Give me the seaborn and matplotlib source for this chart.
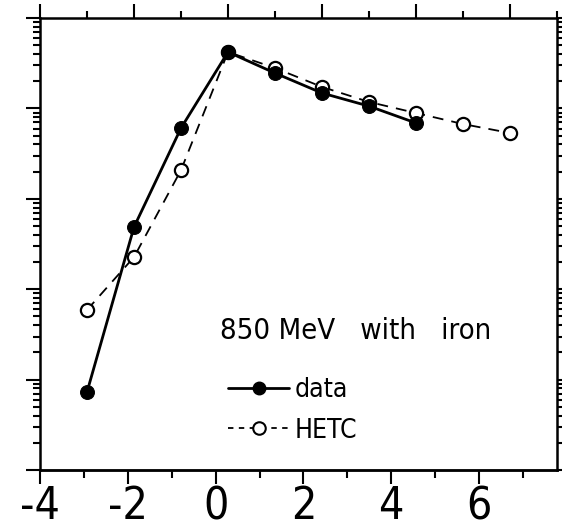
import numpy as np
import pandas as pd
import matplotlib
matplotlib.use("Agg")
import matplotlib.pyplot as plt
from matplotlib.lines import Line2D
from matplotlib.ticker import MultipleLocator, LogLocator, NullFormatter
import seaborn as sns

# values (y on a log scale, arbitrary units)
data_x = [-3, -2, -1, 0, 1, 2, 3, 4]
data_y = [7.3, 488, 6070, 42100, 24600, 14800, 10600, 6900]

hetc_x = [-3, -2, -1, 0, 1, 2, 3, 4, 5, 6]
hetc_y = [59, 227, 2080, 42100, 28000, 17300, 11800, 8900, 6720, 5350]

bottom_ticks = [-4, -2, 0, 2, 4, 6]
title_text = "850 MeV   with   iron"
legend_labels = ["data", "HETC"]

sns.set_theme(style="ticks")
plt.rcParams["font.family"] = ["Liberation Sans Narrow", "DejaVu Sans"]
plt.rcParams["font.stretch"] = "condensed"
plt.rcParams["axes.unicode_minus"] = False
plt.rcParams["text.color"] = "black"
plt.rcParams["xtick.labelcolor"] = "black"
plt.rcParams["ytick.labelcolor"] = "black"

fig = plt.figure(figsize=(5.62, 5.28), dpi=100)
ax = fig.add_axes([0.0712, 0.1098, 0.920, 0.856])

df_data = pd.DataFrame({"x": data_x, "y": data_y})
df_hetc = pd.DataFrame({"x": hetc_x, "y": hetc_y})

# HETC first so the filled data points sit on top
sns.lineplot(data=df_hetc, x="x", y="y", ax=ax, color="black", linewidth=1.3,
             linestyle=(0, (6, 4.5)), marker="o", markersize=9.5,
             markerfacecolor="white", markeredgecolor="black", markeredgewidth=1.6)
sns.lineplot(data=df_data, x="x", y="y", ax=ax, color="black", linewidth=2.0,
             marker="o", markersize=10, markerfacecolor="black",
             markeredgecolor="black")

ax.set_yscale("log")
ax.set_ylim(1, 1e5)
ax.set_xlim(-4, 7)
ax.set_xlabel("")
ax.set_ylabel("")

ax.yaxis.set_major_locator(LogLocator(base=10, numticks=20))
ax.yaxis.set_minor_locator(LogLocator(base=10, subs=np.arange(2, 10), numticks=100))
ax.yaxis.set_major_formatter(NullFormatter())
ax.yaxis.set_minor_formatter(NullFormatter())
ax.xaxis.set_major_locator(MultipleLocator(2))
ax.xaxis.set_minor_locator(MultipleLocator(1))

for sp in ax.spines.values():
    sp.set_linewidth(1.8)
    sp.set_color("black")

ax.tick_params(which="both", direction="out", color="black", width=1.5,
               left=True, right=True, top=True, bottom=False,
               labelleft=False, labelbottom=False, labeltop=False)
ax.tick_params(which="major", length=10)
ax.tick_params(which="minor", length=5)

# the bottom scale of the scanned figure is a little compressed against the top one
def fwd(x):
    return -4 + 1.0707 * (np.asarray(x) + 4)

def inv(u):
    return (np.asarray(u) + 4) / 1.0707 - 4

sec = ax.secondary_xaxis("bottom", functions=(fwd, inv))
sec.set_xticks(bottom_ticks)
sec.xaxis.set_minor_locator(MultipleLocator(1))
sec.tick_params(which="both", direction="out", color="black", width=1.5,
                labelsize=32, pad=1, labelcolor="black")
sec.tick_params(which="major", length=10)
sec.tick_params(which="minor", length=6)
sec.spines["bottom"].set_linewidth(1.8)

ax.text(0.611, 0.3075, title_text, transform=ax.transAxes, ha="center",
        va="center", fontsize=21, color="black")

handles = [
    Line2D([], [], color="black", linewidth=2.0, marker="o", markersize=9,
           markerfacecolor="black"),
    Line2D([], [], color="black", linewidth=1.3, linestyle=(0, (3, 3)),
           marker="o", markersize=9, markerfacecolor="white",
           markeredgewidth=1.5),
]
ax.legend(handles=handles, labels=legend_labels, loc="center left",
          bbox_to_anchor=(0.364, 0.132), frameon=False, fontsize=19,
          handlelength=2.3, handletextpad=0.2, labelspacing=0.55,
          borderpad=0, borderaxespad=0, numpoints=1, labelcolor="black")

fig.savefig("out.png", dpi=100)
